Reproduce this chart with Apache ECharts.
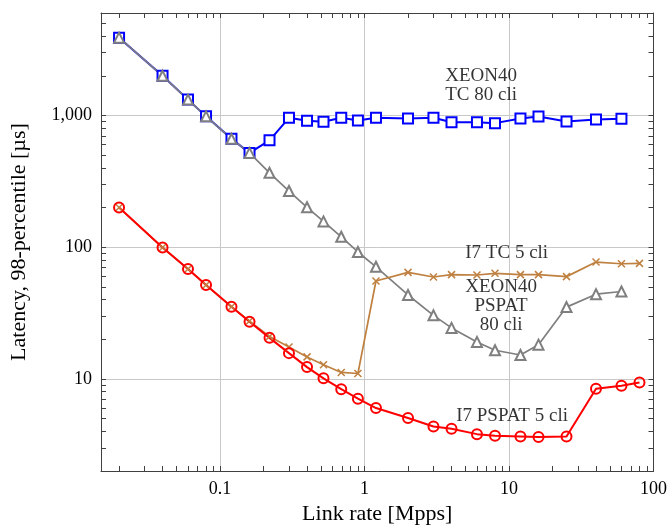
<!DOCTYPE html>
<html><head><meta charset="utf-8">
<script src="https://cdn.jsdelivr.net/npm/echarts@6/dist/echarts.min.js"></script>
<style>html,body{margin:0;padding:0;background:#fff}#c{width:670px;height:530px}</style>
</head><body><div id="c"></div>
<script>
// Link rate [Mpps]
const rates = [0.02,0.04,0.06,0.08,0.12,0.16,0.22,0.3,0.4,0.52,0.69,0.9,1.2,2,3,4,6,8,12,16,25,40,60,80];
// XEON40 TC 80 cli (to 60 Mpps)
const xeonTC = [3900,2000,1320,985,665,520,648,960,912,897,961,917,961,949,961,890,890,875,949,983,901,933,944];
// XEON40 PSPAT 80 cli (to 60 Mpps)
const xeonPSPAT = [3900,2000,1320,985,665,520,367,267,201,157,120,92,71,43.4,30.4,24.4,19.1,16.5,15.2,18.2,35.1,44,46.1];
// I7 TC 5 cli
const i7TC = [200,99.5,68.3,51.7,35.3,27.5,21,17.5,14.7,12.8,11.2,11.0,55.4,64.4,59.4,61.9,61.5,63.4,61.9,61.9,59.8,77.1,74.9,75.4];
// I7 PSPAT 5 cli
const i7PSPAT = [200,99.5,68.3,51.7,35.3,27.2,20.5,15.7,12.3,10.1,8.36,7.08,6.01,5.05,4.35,4.18,3.81,3.70,3.66,3.62,3.66,8.41,8.87,9.40];

const xTickLabels = [0.1,1,10,100];
const yTickLabels = [10,100,1000];
const xMinorTicks = [0.02,0.03,0.04,0.05,0.06,0.07,0.08,0.09,0.1,0.2,0.3,0.4,0.5,0.6,0.7,0.8,0.9,1,2,3,4,5,6,7,8,9,10,20,30,40,50,60,70,80,90,100];
const yMinorTicks = [2,3,4,5,6,7,8,9,10,20,30,40,50,60,70,80,90,100,200,300,400,500,600,700,800,900,1000,2000,3000,4000,5000,6000];

const annText = ['XEON40\nTC 80 cli','I7 TC 5 cli','XEON40\nPSPAT\n80 cli','I7 PSPAT 5 cli'];
const annX = [6.41,9.64,8.81,10.5];
const annY = [1675,89.7,35.9,5.27];

const FONT = '"Liberation Serif", "Times New Roman", serif';
const AX = '#404040';
const GRID = '#c8c8c8';

function pairs(xs, ys){ return ys.map((y,i)=>[xs[i], y]); }
function fmt(v){ return Number(v).toLocaleString('en-US'); }

const chart = echarts.init(document.getElementById('c'), null, {renderer:'canvas'});

function xAx(extra){
  return Object.assign({
    type:'log', logBase:10, min:0.015, max:100,
    axisLine:{show:false}, axisTick:{show:false}, axisLabel:{show:false},
    splitLine:{show:false}, minorTick:{show:false}, minorSplitLine:{show:false}
  }, extra);
}
function yAx(extra){
  return Object.assign({
    type:'log', logBase:10, min:2, max:6000,
    axisLine:{show:false}, axisTick:{show:false}, axisLabel:{show:false},
    splitLine:{show:false}, minorTick:{show:false}, minorSplitLine:{show:false}
  }, extra);
}
const tickStyle = (vals)=>({show:true, inside:true, length:5, customValues:vals, lineStyle:{color:AX, width:1}});

const option = {
  backgroundColor:'#fff',
  animation:false,
  grid:{left:101, right:16, top:13, bottom:56, containLabel:false},
  xAxis:[
    xAx({
      position:'bottom',
      name:'Link rate [Mpps]', nameLocation:'middle', nameGap:32,
      nameTextStyle:{fontFamily:FONT, fontSize:22, color:'#000'},
      axisLine:{show:true, lineStyle:{color:AX, width:1}},
      axisLabel:{show:true, customValues:xTickLabels, margin:9, fontFamily:FONT, fontSize:18, color:'#000', formatter:v=>String(v)},
      splitLine:{show:true, lineStyle:{color:GRID, width:1}}
    }),
    xAx({position:'bottom', axisTick:tickStyle(xMinorTicks)}),
    xAx({position:'top', axisLine:{show:true, lineStyle:{color:AX, width:1}}, axisTick:tickStyle(xMinorTicks)})
  ],
  yAxis:[
    yAx({
      position:'left',
      name:'Latency, 98-percentile [µs]', nameLocation:'middle', nameGap:71,
      nameTextStyle:{fontFamily:FONT, fontSize:22, color:'#000'},
      axisLine:{show:true, lineStyle:{color:AX, width:1}},
      axisLabel:{show:true, customValues:yTickLabels, margin:9, fontFamily:FONT, fontSize:18, color:'#000', formatter:v=>fmt(v)},
      splitLine:{show:true, lineStyle:{color:GRID, width:1}}
    }),
    yAx({position:'left', axisTick:tickStyle(yMinorTicks)}),
    yAx({position:'right', axisLine:{show:true, lineStyle:{color:AX, width:1}}, axisTick:tickStyle(yMinorTicks)})
  ],
  series:[
    {
      name:'XEON40 TC 80 cli', type:'line', data:pairs(rates, xeonTC),
      symbol:'emptyRect', symbolSize:10,
      lineStyle:{color:'#0000ff', width:2},
      itemStyle:{color:'#0000ff', borderColor:'#0000ff', borderWidth:2}
    },
    {
      name:'XEON40 PSPAT 80 cli', type:'line', data:pairs(rates, xeonPSPAT),
      symbol:'emptyTriangle', symbolSize:10,
      lineStyle:{color:'#7f7f7f', width:1.7},
      itemStyle:{color:'#7f7f7f', borderColor:'#7f7f7f', borderWidth:1.7}
    },
    {
      name:'I7 TC 5 cli', type:'line', data:pairs(rates, i7TC),
      symbol:'path://M0,0L10,10M10,0L0,10', symbolSize:7,
      lineStyle:{color:'#bf8040', width:1.7},
      itemStyle:{color:'rgba(0,0,0,0)', borderColor:'#bf8040', borderWidth:1.5}
    },
    {
      name:'I7 PSPAT 5 cli', type:'line', data:pairs(rates, i7PSPAT),
      symbol:'circle', symbolSize:10,
      lineStyle:{color:'#ff0000', width:2},
      itemStyle:{color:'rgba(255,255,255,0)', borderColor:'#ff0000', borderWidth:2}
    },
    {
      name:'labels', type:'scatter', silent:true,
      data:annText.map((t,i)=>[annX[i], annY[i], t]),
      symbolSize:1, itemStyle:{color:'rgba(0,0,0,0)'},
      label:{show:true, position:'inside', formatter:p=>p.data[2], fontFamily:FONT, fontSize:19, lineHeight:19, color:'#000', align:'center', verticalAlign:'middle'}
    }
  ]
};
chart.setOption(option);
</script>
</body></html>
